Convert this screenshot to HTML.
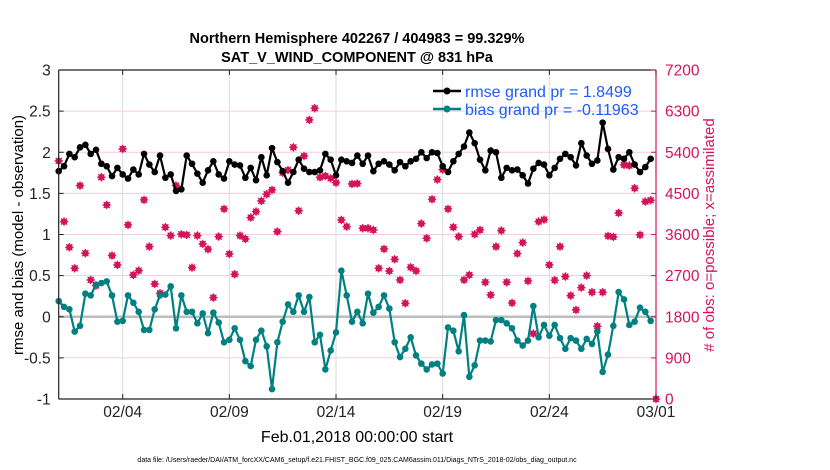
<!DOCTYPE html>
<html><head><meta charset="utf-8"><style>
html,body{margin:0;padding:0;background:#fff;}
svg{display:block;font-family:"Liberation Sans",sans-serif;}
</style></head><body>
<svg id="chart" width="830" height="470" viewBox="0 0 830 470">
<rect x="0" y="0" width="830" height="470" fill="#fff"/>
<g id="grid"></g>
<g id="series"></g>
<g id="axes"></g>
<text x="357" y="43" text-anchor="middle" font-size="14.5" font-weight="bold">Northern Hemisphere 402267 / 404983 = 99.329%</text>
<text x="357" y="62" text-anchor="middle" font-size="14.5" font-weight="bold">SAT_V_WIND_COMPONENT @ 831 hPa</text>
<text transform="translate(23,235) rotate(-90)" text-anchor="middle" font-size="15">rmse and bias (model - observation)</text>
<text transform="translate(714,235) rotate(-90)" text-anchor="middle" font-size="15" fill="#d4145a"># of obs: o=possible; x=assimilated</text>
<text x="357" y="442" text-anchor="middle" font-size="16">Feb.01,2018 00:00:00 start</text>
<text x="357" y="462" text-anchor="middle" font-size="7">data file: /Users/raeder/DAI/ATM_forcXX/CAM6_setup/f.e21.FHIST_BGC.f09_025.CAM6assim.011/Diags_NTrS_2018-02/obs_diag_output.nc</text>
<g>
<line x1="433" y1="91" x2="461" y2="91" stroke="#000" stroke-width="2.5"/>
<circle cx="447" cy="91" r="3.5" fill="#000"/>
<text x="465" y="97" font-size="16" fill="#1a5cff">rmse grand pr = 1.8499</text>
<line x1="433" y1="109" x2="461" y2="109" stroke="#008080" stroke-width="2.5"/>
<circle cx="447" cy="109" r="3.5" fill="#008080"/>
<text x="465" y="115" font-size="16" fill="#1a5cff">bias grand pr = -0.11963</text>
</g>
</svg>
<script>
const rmse=[1.77,1.83,1.98,1.94,2.06,2.09,1.98,2.03,1.86,1.83,1.71,1.81,1.73,1.68,1.79,1.73,1.98,1.85,1.76,1.96,1.69,1.73,1.53,1.55,1.96,1.86,1.74,1.63,1.78,
1.89,1.73,1.68,1.89,1.85,1.84,1.69,1.81,1.66,1.94,1.72,
2.05,1.88,1.77,1.63,1.76,1.91,1.80,1.76,1.76,1.78,1.98,1.91,1.72,1.91,1.89,1.87,
1.96,1.86,1.96,1.77,1.86,1.89,1.85,1.78,1.88,1.83,1.89,1.92,2.00,1.93,2.00,1.99,1.83,1.76,1.89,1.98,2.07,2.24,2.11,1.91,1.78,2.02,2.00,1.69,1.81,
1.78,1.79,1.72,1.62,1.80,1.87,1.85,1.72,1.81,1.92,1.98,1.94,1.84,2.11,1.96,1.86,1.90,2.36,2.04,1.79,1.94,1.92,2.00,1.85,1.76,1.82,1.92];
const bias=[0.19,0.12,0.09,-0.18,-0.11,0.28,0.26,0.39,0.41,0.43,0.26,-0.06,-0.05,0.26,0.17,0.06,-0.16,-0.16,0.09,0.26,0.27,0.37,-0.14,0.26,0.06,0.06,-0.08,0.04,-0.20,
0.05,-0.07,-0.31,-0.28,-0.14,-0.28,-0.54,-0.60,-0.28,-0.17,-0.36,-0.88,-0.31,-0.06,0.15,0.06,0.26,0.06,0.24,-0.31,-0.22,-0.64,-0.41,-0.19,0.56,0.26,-0.06,
0.06,-0.08,0.28,0.05,0.12,0.26,0.10,-0.31,-0.49,-0.39,-0.25,-0.47,-0.57,-0.64,-0.58,-0.57,-0.69,-0.13,-0.17,-0.42,0.02,-0.73,-0.59,-0.29,-0.29,-0.30,-0.04,-0.04,-0.08,
-0.14,-0.29,-0.35,-0.29,0.13,-0.25,-0.10,-0.23,-0.10,-0.26,-0.39,-0.26,-0.29,-0.39,-0.27,-0.33,-0.18,-0.67,-0.46,-0.11,0.30,0.21,-0.10,-0.06,0.11,0.06,-0.05];
const obsCount=[5210,3883,3321,2861,4671,3190,2606,2482,4853,4247,3139,2934,5473,3810,2715,2810,4357,3335,2518,2314,3759,3576,4671,3605,3591,2876,3576,3394,3277,
2219,3554,4160,3175,2730,3576,3503,3970,4101,4335,4481,4576,3664,4952,5011,5508,4121,5317,6108,6363,4851,4880,4830,4734,3918,3773,4706,
4714,3737,3737,3700,2861,3284,2803,3058,2606,2095,2883,2803,3839,3518,4371,4802,5021,4160,3759,3554,2606,2715,3605,3700,2555,2278,3335,3686,2555,
2103,3182,3423,2584,1431,3883,3926,2934,2599,3335,2679,2263,1949,2438,2701,2336,1592,2336,3569,3547,4072,5123,5108,4612,3591,4320,4350,0];
const stepDays=0.25;
const xTickDays=[3,8,13,18,23,28];
const xTickLabels=["02/04","02/09","02/14","02/19","02/24","03/01"];
const leftTicks=[-1,-0.5,0,0.5,1,1.5,2,2.5,3];
const leftTickLabels=["-1","-0.5","0","0.5","1","1.5","2","2.5","3"];
const rightTicks=[0,900,1800,2700,3600,4500,5400,6300,7200];

const NS="http://www.w3.org/2000/svg";
const L=58.7,R=656,T=70,B=399;
const xS=d=>L+(d/28)*(R-L);
const yS=v=>B-(v+1)/4*(B-T);
const yR=c=>B-c/7200*(B-T);
function mk(tag,attrs,parent){const e=document.createElementNS(NS,tag);for(const k in attrs)e.setAttribute(k,attrs[k]);parent.appendChild(e);return e;}
const grid=document.getElementById('grid'),ser=document.getElementById('series'),ax=document.getElementById('axes');
leftTicks.forEach(v=>{if(v===-1||v===3||v===0)return;
 const g=mk('line',{x1:L,x2:R,y1:yS(v),y2:yS(v),stroke:'#f2cddb','stroke-width':1},grid);
 
 });
xTickDays.forEach(d=>{if(d>=28)return;
 const g=mk('line',{x1:xS(d),x2:xS(d),y1:T,y2:B,stroke:'#dcdcdc','stroke-width':1},grid);
 
 });
const zl=mk('line',{x1:L,x2:R,y1:yS(0),y2:yS(0),stroke:'#bdbdbd','stroke-width':2.5},grid);


// obs markers
const obsG=mk('g',{},ser);


obsCount.forEach((c,i)=>{const x=xS(i*stepDays),y=yR(c);
 const m=mk('g',{},obsG);
 
 
 mk('circle',{cx:x,cy:y,r:3.2,fill:'#d4145a'},m);
 mk('path',{d:`M${x-4.2} ${y}H${x+4.2}M${x} ${y-4.2}V${y+4.2}M${x-3} ${y-3}L${x+3} ${y+3}M${x-3} ${y+3}L${x+3} ${y-3}`,stroke:'#d4145a','stroke-width':1.3},m);});
function line(arr,col,name){
 const pts=arr.map((v,i)=>xS(i*stepDays).toFixed(1)+','+yS(v).toFixed(1)).join(' ');
 const g=mk('g',{},ser);
 
 
 mk('polyline',{points:pts,fill:'none',stroke:col,'stroke-width':2.2,'stroke-linejoin':'round'},g);
 arr.forEach((v,i)=>{const c=mk('circle',{cx:xS(i*stepDays),cy:yS(v),r:3.3,fill:col},g);
  
  });
}
line(rmse,'#000','rmse-line');
line(bias,'#008080','bias-line');
// axes frame
mk('line',{x1:L,x2:R,y1:T,y2:T,stroke:'#222','stroke-width':1.2},ax);
mk('line',{x1:L,x2:R,y1:B,y2:B,stroke:'#222','stroke-width':1.2},ax);
const la=mk('line',{x1:L,x2:L,y1:T,y2:B,stroke:'#222','stroke-width':1.2},ax);


const ra=mk('line',{x1:R,x2:R,y1:T,y2:B,stroke:'#d4145a','stroke-width':1.2},ax);


leftTicks.forEach((v,i)=>{const y=yS(v);
 mk('line',{x1:L,x2:L+5,y1:y,y2:y,stroke:'#222'},ax);
 const t=mk('text',{x:L-8,y:y+5.5,'text-anchor':'end','font-size':15.5,fill:'#222'},ax);
 t.textContent=leftTickLabels[i];
 
 });
rightTicks.forEach(c=>{const y=yR(c);
 mk('line',{x1:R-5,x2:R,y1:y,y2:y,stroke:'#d4145a'},ax);
 const t=mk('text',{x:R+9,y:y+5.5,'font-size':15.5,fill:'#d4145a'},ax);
 t.textContent=String(c);
 
 });
xTickDays.forEach((d,i)=>{const x=xS(d);
 mk('line',{x1:x,x2:x,y1:B,y2:B-5,stroke:'#222'},ax);
 mk('line',{x1:x,x2:x,y1:T,y2:T+5,stroke:'#222'},ax);
 const t=mk('text',{x:x,y:417,'text-anchor':'middle','font-size':15.5,fill:'#222'},ax);
 t.textContent=xTickLabels[i];
 
 });
</script>
</body></html>
